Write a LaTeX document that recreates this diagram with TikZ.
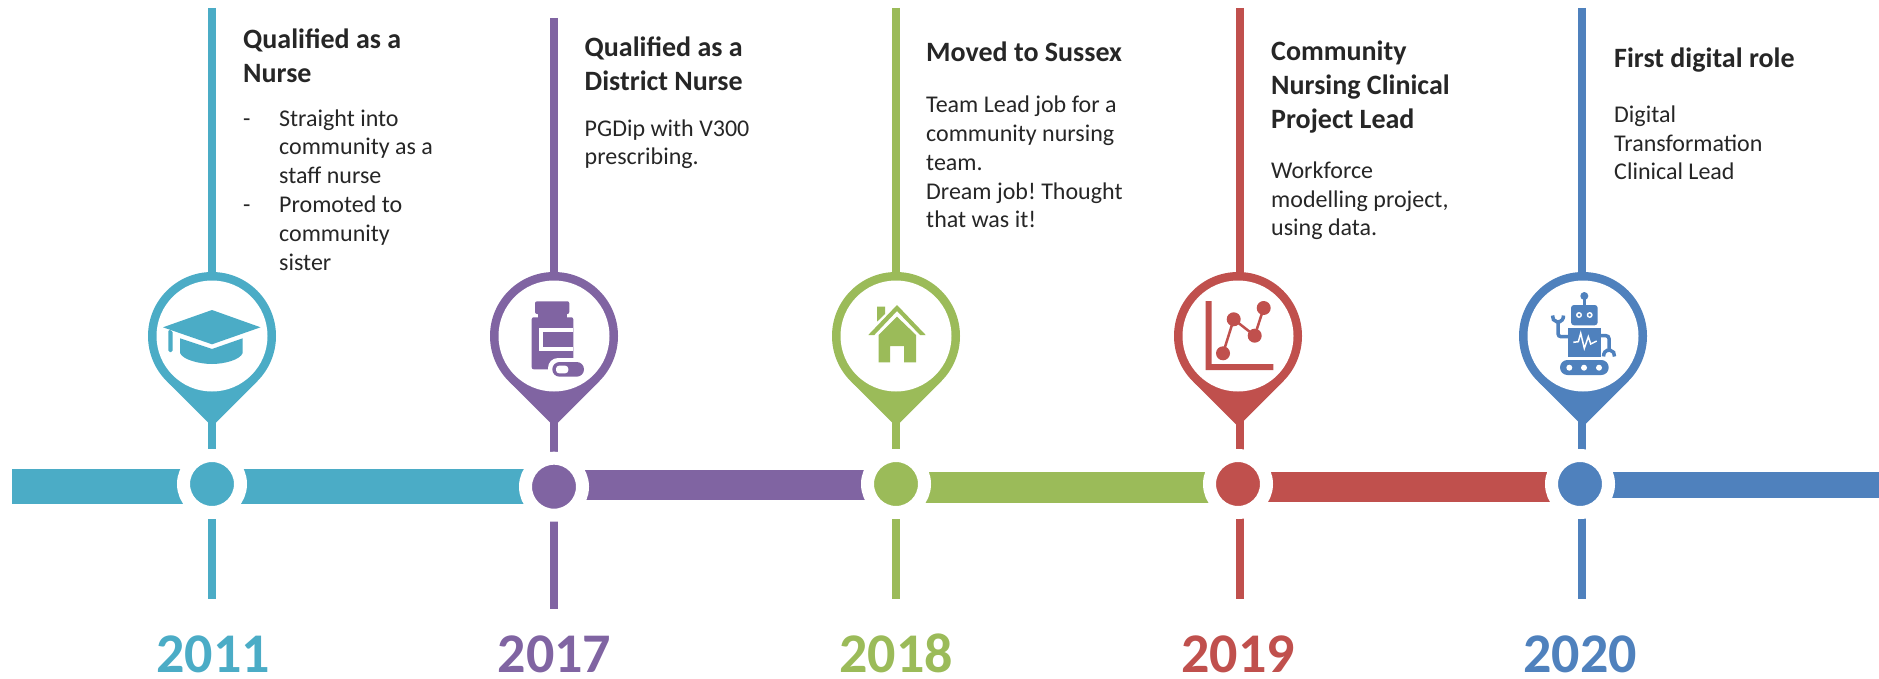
\documentclass[tikz,border=0pt]{standalone}
\usepackage{fontspec}
\setmainfont{Carlito}
\definecolor{col2011}{HTML}{4BACC6}
\definecolor{col2017}{HTML}{8064A2}
\definecolor{col2018}{HTML}{9BBB59}
\definecolor{col2019}{HTML}{C0504D}
\definecolor{col2020}{HTML}{4F81BD}
\definecolor{ink}{HTML}{262626}
\newcommand{\pinbody}[3]{%
  \fill[#3] (#2,-336) circle (64);
  \fill[#3] (#2-45.25,-381.25) -- (#2+45.25,-381.25) -- (#2,-426.5) -- cycle;
  \node [pinface] (#1) at (#2,-336) {};
}
\tikzset{
  pinface/.style={circle,fill=white,inner sep=0pt,minimum size=111pt},
  dotmark/.style={circle,fill=#1,draw=white,line width=13pt,inner sep=0pt,minimum size=57pt},
  stemline/.style={draw=#1,line width=8pt},
  title/.style={anchor=base west,align=left,inner sep=0pt,yshift=-1pt,text=ink,font=\fontsize{28}{34.4}\selectfont\bfseries\frenchspacing},
  body/.style={anchor=base west,align=left,inner sep=0pt,yshift=-1pt,text=ink,font=\fontsize{24}{28.8}\selectfont\frenchspacing},
  yearlabel/.style={anchor=base,inner sep=0pt,yshift=-1pt,text=#1,font=\fontsize{56}{60}\selectfont\bfseries}
}
\begin{document}
\begin{tikzpicture}[x=1pt,y=1pt]
\useasboundingbox (0,0) rectangle (1879,-679);
\coordinate (centerA) at (212,-484);
\coordinate (centerB) at (554,-486.7);
\coordinate (centerC) at (896,-484);
\coordinate (centerD) at (1238,-484);
\coordinate (centerE) at (1580,-484);
\coordinate (barstart) at (12,-486.5);
\coordinate (barB) at (554,-485);
\coordinate (barC) at (896,-487.5);
\coordinate (barD) at (1238,-487);
\coordinate (barE) at (1580,-485);
\coordinate (barend) at (1879,-485);
\coordinate (topA) at (212,-8);
\coordinate (topB) at (554,-18);
\coordinate (topC) at (896,-8);
\coordinate (topD) at (1240,-8);
\coordinate (topE) at (1582,-8);
\coordinate (footA) at (212,-599);
\coordinate (footB) at (554,-609);
\coordinate (footC) at (896,-599);
\coordinate (footD) at (1240,-599);
\coordinate (footE) at (1582,-599);
% timeline
\draw [col2011,line width=35pt] (barstart) -- (barB |- barstart);
\draw [col2017,line width=30pt] (barB) -- (barC |- barB);
\draw [col2018,line width=31pt] (barC) -- (barD |- barC);
\draw [col2019,line width=30pt] (barD) -- (barE |- barD);
\draw [col2020,line width=26pt] (barE) -- (barend);
\path [stemline=col2011] (topA) -- (footA);
\path [stemline=col2017] (topB) -- (footB);
\path [stemline=col2018] (topC) -- (footC);
\path [stemline=col2019] (topD) -- (footD);
\path [stemline=col2020] (topE) -- (footE);
\node [dotmark=col2011] (dotA) at (centerA) {};
\node [dotmark=col2017] (dotB) at (centerB) {};
\node [dotmark=col2018] (dotC) at (centerC) {};
\node [dotmark=col2019] (dotD) at (centerD) {};
\node [dotmark=col2020] (dotE) at (centerE) {};
% pins
\pinbody{pinA}{212}{col2011}
\pinbody{pinB}{554}{col2017}
\pinbody{pinC}{896}{col2018}
\pinbody{pinD}{1238}{col2019}
\pinbody{pinE}{1583}{col2020}
% cap
\begin{scope}[shift={(pinA.center)}]
\fill [col2011] (0,26) -- (48.5,8.7) -- (0,-8.3) -- (-49,8.7) -- cycle;
\fill [col2011] (-32,-2.3) -- (0,-13) -- (30.7,-2.3) -- (30.7,-17) .. controls (28,-24) and (12,-28) .. (0,-28) .. controls (-12,-28) and (-29,-24) .. (-32,-17) -- cycle;
\fill [col2011,rounded corners=1.5] (-43.7,6.5) -- (-39.3,5) -- (-39.3,-16) -- (-43.7,-16) -- cycle;
\end{scope}
% bottle
\begin{scope}[shift={(pinB.center)}]
\fill [col2017,rounded corners=2] (-19,34.7) rectangle (15.3,22);
\fill [col2017] (-16,24) rectangle (12.7,16);
\fill [col2017,rounded corners=2] (-22.3,18.7) rectangle (19.3,-33.3);
\fill [white] (-15,7.7) rectangle (19.3,-14.7);
\fill [col2017] (-11.3,4.3) rectangle (19.3,-10.7);
\fill [white,rounded corners=10] (-6,-22) rectangle (33,-44);
\fill [col2017,rounded corners=7.3] (-1.7,-26) rectangle (30,-40.7);
\fill [white,rounded corners=3] (2,-29.7) -- (14.3,-29.7) -- (14.3,-37.3) -- (2,-37.3) -- cycle;
\end{scope}
% house
\begin{scope}[shift={(pinC.center)}]
\fill [col2018] (1,31) -- (29.7,1) -- (24,1) -- (1,25) -- (-21.7,1) -- (-27.7,1) -- cycle;
\fill [col2018] (-19,29.3) -- (-11,29.3) -- (-11,22) -- (-19,14.3) -- cycle;
\fill [col2018] (1,19.3) -- (20,1) -- (20,-26.3) -- (8,-26.3) -- (8,-10) -- (-6,-10) -- (-6,-26.3) -- (-17.3,-26.3) -- (-17.3,1) -- cycle;
\end{scope}
% chart
\begin{scope}[shift={(pinD.center)}]
\fill [col2019] (-32.3,35) -- (-26.3,35) -- (-26.3,-28) -- (35.3,-28) -- (35.3,-34) -- (-32.3,-34) -- cycle;
\draw [col2019,line width=2.5pt] (-15,-17.3) -- (-4.3,16.7) -- (16.7,.3) -- (25.7,28);
\fill [col2019] (-15,-17.3) circle (7);
\fill [col2019] (-4.3,16.7) circle (7);
\fill [col2019] (16.7,.3) circle (7);
\fill [col2019] (25.7,28) circle (7);
\end{scope}
% robot
\begin{scope}[shift={(pinE.center)}]
\fill [col2020] (1.3,40) circle (4);
\draw [col2020,line width=2.5pt] (1.3,40) -- (1.3,30);
\fill [col2020,rounded corners=3] (-12,31) rectangle (14.7,10.7);
\fill [white] (-4,21) circle (3);
\fill [white] (6.7,21) circle (3);
\fill [col2020] (-4,21) circle (1.5);
\fill [col2020] (6.7,21) circle (1.5);
\fill [col2020] (-15,7.7) rectangle (17.7,-20.7);
\draw [white,line width=1.5pt] (-9.7,-6.3) -- (-4.7,-5.7) -- (-2.3,2.7) -- (1.3,-12.3) -- (5.3,-.7) -- (7.7,-8) -- (13.7,-5);
\draw [col2020,line width=3.5pt,rounded corners=3] (-15,-.7) -- (-25,-.7) -- (-25,14);
\draw [col2020,line width=3.5pt] (-30.5,20.5) arc (170:370:5.5);
\draw [col2020,line width=3.5pt,rounded corners=3] (17.7,.3) -- (26,.3) -- (26,-13);
\draw [col2020,line width=3.5pt] (31.5,-20.5) arc (-10:190:5.5);
\fill [col2020,rounded corners=7.4] (-23,-24) rectangle (25.7,-39);
\fill [white] (-13.7,-31.7) circle (3);
\fill [white] (1,-31.7) circle (3);
\fill [white] (16,-31.7) circle (3);
\end{scope}
% texts
\node [title] (titleA) at (243,-82) {Qualified as a\\Nurse};
\node [body] (textA) at (243,-269) {\makebox[36pt][l]{-}Straight into\\\hspace*{36pt}community as a\\\hspace*{36pt}staff nurse\\\makebox[36pt][l]{-}Promoted to\\\hspace*{36pt}community\\\hspace*{36pt}sister};
\node [title] (titleB) at (584.5,-90) {Qualified as a\\District Nurse};
\node [body] (textB) at (584.5,-164) {PGDip with V300\\prescribing.};
\node [title] (titleC) at (926,-61) {Moved to Sussex};
\node [body] (textC) at (926,-227) {Team Lead job for a\\community nursing\\team.\\Dream job! Thought\\that was it!};
\node [title] (titleD) at (1271,-128) {Community\\Nursing Clinical\\Project Lead};
\node [body] (textD) at (1271,-235) {Workforce\\modelling project,\\using data.};
\node [title] (titleE) at (1614,-67) {First digital role};
\node [body] (textE) at (1614,-179) {Digital\\Transformation\\Clinical Lead};
\node [yearlabel=col2011] (yearA) at (213,-671) {2011};
\node [yearlabel=col2017] (yearB) at (554.5,-671) {2017};
\node [yearlabel=col2018] (yearC) at (896,-671) {2018};
\node [yearlabel=col2019] (yearD) at (1238,-671) {2019};
\node [yearlabel=col2020] (yearE) at (1580,-671) {2020};
\end{tikzpicture}
\end{document}
